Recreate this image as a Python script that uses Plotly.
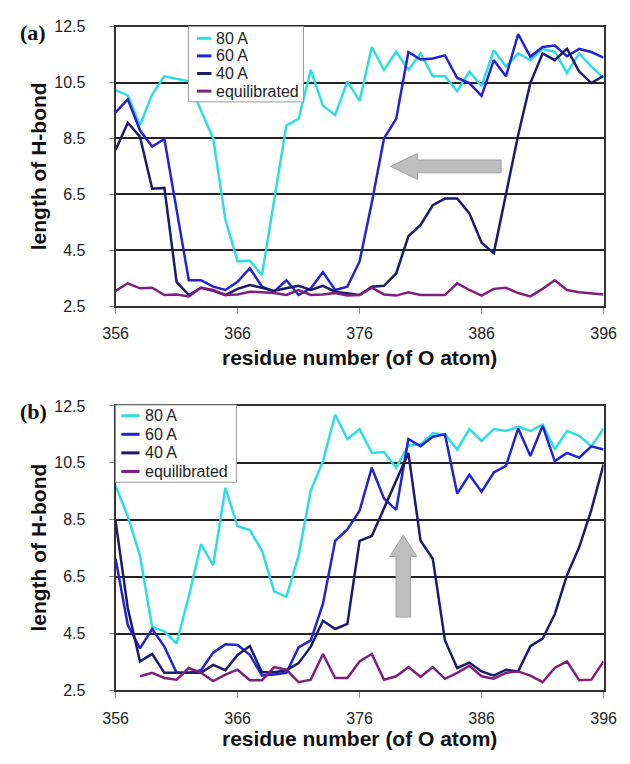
import plotly.graph_objects as go

# ---------------- data ----------------
residues = list(range(356, 397))
x_ticks = [356, 366, 376, 386, 396]
y_ticks = [2.5, 4.5, 6.5, 8.5, 10.5, 12.5]
series_names = ["80 A", "60 A", "40 A", "equilibrated"]
series_colors = ["#2EDCE6", "#2323CF", "#1B1B6B", "#7E1F7E"]

a_80 = [10.23, 10.04, 8.97, 10.08, 10.72, 10.62, 10.54, 9.5, 8.5, 5.6, 4.1, 4.13, 3.61, 6.3,
        8.97, 9.2, 10.95, 9.67, 9.34, 10.54, 9.84,
        11.77, 10.95, 11.6, 10.95, 11.54, 10.72, 10.72, 10.19, 10.89, 10.37, 11.65, 11.07,
        11.54, 11.3, 11.7, 11.6, 10.84, 11.54, 11.07, 10.66]
a_60 = [9.43, 9.9, 8.79, 8.21, 8.48, 5.9, 3.43, 3.43, 3.2, 3.08, 3.37, 3.86, 3.2, 3.02,
        3.43, 2.9, 3.14, 3.72, 3.08, 3.2, 4.1,
        6.2, 8.5, 9.2, 11.59, 11.32, 11.36, 11.47, 10.66, 10.48, 10.02, 11.3, 10.72,
        12.23, 11.42, 11.77, 11.82, 11.44, 11.7, 11.59, 11.39]
a_40 = [8.09, 9.06, 8.56, 6.7, 6.73, 3.37, 2.9, 3.16, 3.05, 2.9, 3.12, 3.26, 3.16, 3.05,
        3.14, 3.23, 3.08, 3.23, 3.02, 2.97, 2.9,
        3.2, 3.23, 3.67, 5.0, 5.41, 6.11, 6.35, 6.35, 5.82, 4.77, 4.4, 6.52,
        8.62, 10.48, 11.54, 11.3, 11.71, 10.89, 10.48, 10.74]
a_eq = [3.05, 3.32, 3.14, 3.16, 2.9, 2.92, 2.85, 3.16, 3.08, 2.9, 2.92, 3.02, 3.0, 2.97,
        2.9, 3.08, 2.9, 2.92, 2.97, 2.88, 2.9,
        3.16, 2.92, 2.88, 3.0, 2.9, 2.9, 2.9, 3.32, 3.08, 2.88, 3.12, 3.16,
        2.97, 2.85, 3.12, 3.43, 3.08, 3.0, 2.97, 2.92]

b_80 = [9.7, 8.62, 7.24, 4.72, 4.58, 4.15, 5.81, 7.64, 6.9, 9.62, 8.27, 8.14, 7.41, 5.98,
        5.79, 7.24, 9.53, 10.56, 12.19, 11.34, 11.68,
        10.85, 10.88, 10.33, 11.11, 11.14, 11.54, 11.5, 10.97, 11.69, 11.27, 11.69, 11.62,
        11.77, 11.62, 11.85, 10.97, 11.62, 11.46, 11.08, 11.71]
b_60 = [7.13, 4.8, 3.98, 4.66, 4.04, 3.12, 3.12, 3.21, 3.83, 4.12, 4.1, 3.75, 3.03, 3.06,
        3.12, 4.01, 4.26, 5.55, 7.76, 8.16, 8.82,
        10.33, 9.25, 8.85, 11.34, 11.08, 11.42, 11.5, 9.42, 10.08, 9.48, 10.16, 10.39,
        11.71, 10.74, 11.8, 10.56, 10.85, 10.68, 11.08, 10.97]
b_40 = [8.45, 5.4, 3.52, 3.78, 3.12, 3.12, 3.12, 3.12, 3.4, 3.21, 3.75, 4.06, 3.14, 3.14,
        3.21, 3.46, 4.04, 4.95, 4.66, 4.84, 7.76,
        7.93, 8.9, 9.88, 10.85, 7.76, 7.13, 4.26, 3.29, 3.48, 3.17, 3.02, 3.23,
        3.17, 4.06, 4.32, 5.18, 6.55, 7.53, 8.85, 10.45]
b_eq = [None, None, 3.0, 3.12, 2.94, 2.88, 3.29, 3.12, 2.83, 3.06, 3.23, 2.86, 2.86, 3.32,
        3.23, 2.79, 2.88, 3.78, 2.94, 2.94, 3.52,
        3.78, 2.88, 3.0, 3.32, 2.98, 3.32, 2.91, 3.12, 3.37, 3.0, 2.91, 3.12,
        3.17, 3.02, 2.79, 3.29, 3.52, 2.86, 2.88, 3.52]

panel_a = [a_80, a_60, a_40, a_eq]
panel_b = [b_80, b_60, b_40, b_eq]

# ---------------- layout helpers ----------------
W, H = 630, 764
def fx(p):
    return p / W
def fy(p):
    return 1 - p / H

SANS = "Liberation Sans, Arial, sans-serif"
SERIF = "Liberation Serif, Times New Roman, serif"

fig = go.Figure()
for vals, name, col in zip(panel_a, series_names, series_colors):
    fig.add_trace(go.Scatter(x=residues, y=vals, mode="lines", name=name,
                             line=dict(color=col, width=2.5), xaxis="x", yaxis="y",
                             showlegend=False, connectgaps=False))
for vals, name, col in zip(panel_b, series_names, series_colors):
    fig.add_trace(go.Scatter(x=residues, y=vals, mode="lines", name=name,
                             line=dict(color=col, width=2.5), xaxis="x2", yaxis="y2",
                             showlegend=False, connectgaps=False))

xdom = [fx(107), fx(616)]
common_x = dict(range=[356, 396], tickvals=x_ticks, ticks="outside", ticklen=6,
                tickcolor="#888", tickwidth=1, showgrid=False, zeroline=False,
                showline=True, mirror=True, linecolor="#333", linewidth=2,
                tickfont=dict(family=SANS, size=16, color="#222"),
                ticklabelstandoff=6, domain=xdom)
common_y = dict(range=[2.5, 12.5], tickvals=y_ticks, tickformat=".1f", ticks="outside",
                ticklen=5, tickcolor="#888", tickwidth=1, showgrid=True,
                gridcolor="#222", gridwidth=2, zeroline=False, showline=True,
                mirror=True, linecolor="#333", linewidth=2,
                tickfont=dict(family=SANS, size=16, color="#222"),
                ticklabelstandoff=20)

fig.update_layout(
    width=W, height=H, margin=dict(l=0, r=0, t=0, b=0),
    paper_bgcolor="white", plot_bgcolor="white", showlegend=False,
    xaxis=dict(common_x, anchor="y"),
    yaxis=dict(common_y, anchor="x", domain=[fy(305), fy(19)]),
    xaxis2=dict(common_x, anchor="y2"),
    yaxis2=dict(common_y, anchor="x2", domain=[fy(698), fy(407)]),
)

annotations = []
shapes = []

# panel labels and axis titles
for lab, ytop in (("(a)", 25), ("(b)", 413)):
    annotations.append(dict(text="<b>%s</b>" % lab, x=fx(5), y=fy(ytop), xref="paper",
                            yref="paper", xanchor="left", yanchor="middle", showarrow=False,
                            font=dict(family=SERIF, size=22, color="#111")))
for ymid_y, ymid_x in ((162, 357), (552, 747)):
    annotations.append(dict(text="<b>length of H-bond</b>", x=fx(27), y=fy(ymid_y),
                            xref="paper", yref="paper", textangle=-90, showarrow=False,
                            xanchor="center", yanchor="middle",
                            font=dict(family=SANS, size=21, color="#111")))
    annotations.append(dict(text="<b>residue number (of O atom)</b>", x=fx(361.5),
                            y=fy(ymid_x), xref="paper", yref="paper", showarrow=False,
                            xanchor="center", yanchor="middle",
                            font=dict(family=SANS, size=21, color="#111")))

# manual legends (short line samples as in the reference)
legend_specs = [
    dict(box=(183, 19, 303, 96), rows=[31, 49, 67, 85], line=(192, 207), text=210),
    dict(box=(107, 406, 233, 485), rows=[417, 436, 455, 474], line=(113, 132), text=136),
]
for spec in legend_specs:
    x0, y0, x1, y1 = spec["box"]
    shapes.append(dict(type="rect", xref="paper", yref="paper", x0=fx(x0), x1=fx(x1),
                       y0=fy(y1), y1=fy(y0), fillcolor="white",
                       line=dict(color="#999", width=1), layer="above"))
    for ry, name, col in zip(spec["rows"], series_names, series_colors):
        shapes.append(dict(type="line", xref="paper", yref="paper",
                           x0=fx(spec["line"][0]), x1=fx(spec["line"][1]),
                           y0=fy(ry), y1=fy(ry), line=dict(color=col, width=3),
                           layer="above"))
        annotations.append(dict(text=name, x=fx(spec["text"]), y=fy(ry), xref="paper",
                                yref="paper", xanchor="left", yanchor="middle",
                                showarrow=False,
                                font=dict(family=SANS, size=16, color="#222")))

# gray block arrows (annotation shapes in data coordinates)
arrow_a = "M 378.55 7.5 L 380.75 7.97 L 380.75 7.73 L 387.6 7.73 L 387.6 7.27 L 380.75 7.27 L 380.75 7.03 Z"
arrow_b = "M 379.58 7.96 L 380.68 7.21 L 380.17 7.21 L 380.17 5.08 L 378.99 5.08 L 378.99 7.21 L 378.48 7.21 Z"
shapes.append(dict(type="path", path=arrow_a, xref="x", yref="y", fillcolor="#BEBEBE",
                   line=dict(color="#A2A2A2", width=1), layer="above"))
shapes.append(dict(type="path", path=arrow_b, xref="x2", yref="y2", fillcolor="#BEBEBE",
                   line=dict(color="#A2A2A2", width=1), layer="above"))

fig.update_layout(annotations=annotations, shapes=shapes)
fig.write_html("out.html")
